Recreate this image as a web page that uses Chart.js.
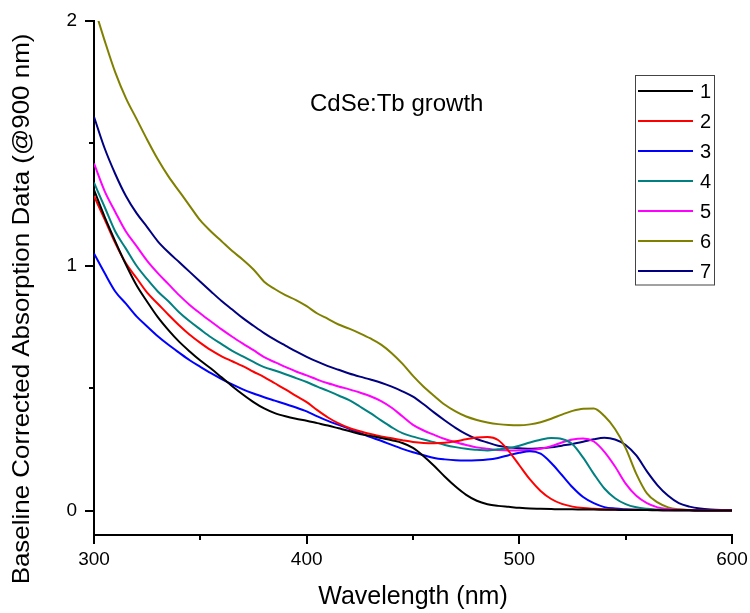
<!DOCTYPE html>
<html>
<head>
<meta charset="utf-8">
<script src="https://cdn.jsdelivr.net/npm/chart.js@4.4.0/dist/chart.umd.min.js"></script>
<style>
  html, body { margin: 0; padding: 0; background: #fff; }
  #wrap { width: 750px; height: 613px; position: relative; }
</style>
</head>
<body>
<div id="wrap"><canvas id="absChart"></canvas></div>
<script>
// wavelength grid (nm)
const wavelengths = [
  300, 305, 310, 315, 320, 325, 330, 335, 340, 345,
  350, 355, 360, 365, 370, 375, 380, 385, 390, 395,
  400, 405, 410, 415, 420, 425, 430, 435, 440, 445,
  450, 455, 460, 465, 470, 475, 480, 485, 490, 495,
  500, 505, 510, 515, 520, 525, 530, 535, 540, 545,
  550, 555, 560, 565, 570, 575, 580, 585, 590, 595, 600
];

const abs1 = [
  1.31, 1.20, 1.10, 1.005, 0.92, 0.853, 0.79, 0.737, 0.69, 0.65,
  0.613, 0.58, 0.544, 0.508, 0.474, 0.443, 0.417, 0.398, 0.385, 0.375,
  0.367, 0.357, 0.347, 0.336, 0.325, 0.313, 0.305, 0.296, 0.287, 0.276,
  0.256, 0.222, 0.182, 0.138, 0.098, 0.064, 0.04, 0.026, 0.019, 0.015,
  0.011, 0.008, 0.007, 0.006, 0.005, 0.005, 0.004, 0.004, 0.003, 0.003,
  0.002, 0.002, 0.002, 0.001, 0.001, 0.001, 0.001, 0, 0, 0, 0
];
const abs2 = [
  1.285, 1.19, 1.093, 1.01, 0.95, 0.89, 0.845, 0.80, 0.757, 0.718,
  0.685, 0.655, 0.63, 0.61, 0.59, 0.567, 0.545, 0.52, 0.495, 0.468,
  0.443, 0.41, 0.38, 0.356, 0.337, 0.324, 0.313, 0.303, 0.295, 0.287,
  0.28, 0.276, 0.275, 0.277, 0.283, 0.291, 0.298, 0.30, 0.288, 0.243,
  0.185, 0.127, 0.08, 0.047, 0.027, 0.016, 0.01, 0.007, 0.005, 0.004,
  0.003, 0.003, 0.002, 0.002, 0.001, 0.001, 0.001, 0, 0, 0, 0
];
const abs3 = [
  1.05, 0.97, 0.895, 0.845, 0.793, 0.752, 0.712, 0.677, 0.645, 0.614,
  0.587, 0.561, 0.537, 0.515, 0.495, 0.478, 0.463, 0.449, 0.435, 0.421,
  0.405, 0.385, 0.366, 0.35, 0.334, 0.317, 0.30, 0.285, 0.268, 0.252,
  0.238, 0.226, 0.215, 0.209, 0.205, 0.204, 0.205, 0.208, 0.215, 0.226,
  0.236, 0.242, 0.232, 0.194, 0.145, 0.095, 0.055, 0.03, 0.014, 0.008,
  0.005, 0.003, 0.002, 0.002, 0.001, 0.001, 0.001, 0, 0, 0, 0
];
const abs4 = [
  1.34, 1.24, 1.14, 1.07, 1.0, 0.945, 0.895, 0.855, 0.81, 0.773,
  0.74, 0.708, 0.68, 0.652, 0.63, 0.607, 0.586, 0.572, 0.557, 0.541,
  0.525, 0.506, 0.489, 0.47, 0.451, 0.425, 0.398, 0.368, 0.34, 0.316,
  0.302, 0.29, 0.279, 0.268, 0.259, 0.252, 0.248, 0.245, 0.25, 0.255,
  0.265, 0.278, 0.289, 0.296, 0.292, 0.271, 0.216, 0.15, 0.09, 0.05,
  0.026, 0.013, 0.007, 0.004, 0.002, 0.001, 0.001, 0, 0, 0, 0
];
const abs5 = [
  1.418, 1.305, 1.22, 1.14, 1.08, 1.02, 0.97, 0.925, 0.88, 0.84,
  0.805, 0.772, 0.74, 0.71, 0.682, 0.655, 0.627, 0.606, 0.587, 0.568,
  0.552, 0.535, 0.52, 0.507, 0.495, 0.482, 0.467, 0.447, 0.42, 0.385,
  0.35, 0.327, 0.309, 0.292, 0.279, 0.268, 0.258, 0.252, 0.247, 0.245,
  0.246, 0.247, 0.252, 0.263, 0.278, 0.29, 0.294, 0.282, 0.24, 0.18,
  0.11, 0.06, 0.03, 0.013, 0.006, 0.003, 0.002, 0.001, 0, 0, 0
];
const abs6 = [
  2.06, 1.92, 1.79, 1.685, 1.60, 1.515, 1.435, 1.365, 1.305, 1.245,
  1.185, 1.14, 1.10, 1.06, 1.025, 0.985, 0.935, 0.905, 0.88, 0.86,
  0.835, 0.805, 0.783, 0.76, 0.743, 0.724, 0.703, 0.678, 0.643, 0.60,
  0.55, 0.506, 0.468, 0.432, 0.405, 0.384, 0.37, 0.36, 0.353, 0.349,
  0.348, 0.352, 0.361, 0.375, 0.392, 0.407, 0.416, 0.417, 0.386, 0.333,
  0.255, 0.15, 0.07, 0.033, 0.013, 0.005, 0.002, 0.001, 0, 0, 0
];
const abs7 = [
  1.609, 1.48, 1.375, 1.285, 1.215, 1.158, 1.10, 1.055, 1.015, 0.975,
  0.935, 0.895, 0.856, 0.821, 0.786, 0.755, 0.725, 0.698, 0.674, 0.65,
  0.628, 0.608, 0.59, 0.575, 0.56, 0.547, 0.535, 0.522, 0.506, 0.487,
  0.465, 0.434, 0.40, 0.368, 0.338, 0.312, 0.292, 0.278, 0.265, 0.258,
  0.254, 0.252, 0.254, 0.258, 0.265, 0.272, 0.281, 0.291, 0.297, 0.29,
  0.268, 0.225, 0.16, 0.103, 0.06, 0.03, 0.016, 0.008, 0.004, 0.002, 0.001
];

const seriesValues = [abs1, abs2, abs3, abs4, abs5, abs6, abs7];
const seriesLabels = ['1', '2', '3', '4', '5', '6', '7'];
const seriesColors = ['#000000', '#ff0000', '#0000ff', '#008080', '#ff00ff', '#808000', '#000080'];

const xTickValues = [300, 350, 400, 450, 500, 550, 600];
const yTickValues = [0, 0.5, 1, 1.5, 2];
const xTitleText = 'Wavelength (nm)';
const yTitleText = 'Baseline Corrected Absorption Data (@900 nm)';
const noteText = 'CdSe:Tb growth';

const FONT = '"Liberation Sans", Arial, sans-serif';

// major / minor tick marks drawn outside the axes
const tickMarks = {
  id: 'tickMarks',
  afterDraw(chart) {
    const { ctx, chartArea, scales: { x, y } } = chart;
    ctx.save();
    ctx.strokeStyle = '#000';
    ctx.lineWidth = 2;
    ctx.beginPath();
    xTickValues.forEach(v => {
      const px = Math.round(x.getPixelForValue(v));
      const len = v % 100 === 0 ? 9 : 5;
      ctx.moveTo(px, chartArea.bottom);
      ctx.lineTo(px, chartArea.bottom + len);
    });
    yTickValues.forEach(v => {
      const py = Math.round(y.getPixelForValue(v));
      const len = Number.isInteger(v) ? 9 : 5;
      ctx.moveTo(chartArea.left, py);
      ctx.lineTo(chartArea.left - len, py);
    });
    ctx.stroke();
    ctx.restore();
  }
};

// boxed legend, text note and the y title (placed like the Origin export)
const boxLegend = {
  id: 'boxLegend',
  afterDraw(chart) {
    const ctx = chart.ctx;
    ctx.save();
    ctx.strokeStyle = '#444';
    ctx.lineWidth = 1;
    ctx.strokeRect(635.5, 75.5, 79, 209.5);
    ctx.font = '20px ' + FONT;
    ctx.textBaseline = 'middle';
    ctx.fillStyle = '#000';
    chart.data.datasets.forEach((ds, i) => {
      const yy = 91 + i * 30;
      ctx.strokeStyle = ds.borderColor;
      ctx.lineWidth = 2;
      ctx.beginPath();
      ctx.moveTo(638, yy);
      ctx.lineTo(693, yy);
      ctx.stroke();
      ctx.fillText(ds.label, 700, yy + 1);
    });
    ctx.font = '24px ' + FONT;
    ctx.textBaseline = 'alphabetic';
    ctx.fillText(noteText, 310, 111);

    ctx.translate(22, 309);
    ctx.rotate(-Math.PI / 2);
    ctx.scale(1.08, 1);
    ctx.textAlign = 'center';
    ctx.textBaseline = 'middle';
    ctx.fillText(yTitleText, 0, 0);
    ctx.restore();
  }
};

new Chart(document.getElementById('absChart'), {
  type: 'line',
  data: {
    datasets: seriesValues.map((vals, i) => ({
      label: seriesLabels[i],
      data: wavelengths.map((w, j) => ({ x: w, y: vals[j] })),
      borderColor: seriesColors[i],
      borderWidth: 2,
      pointRadius: 0,
      fill: false,
      cubicInterpolationMode: 'monotone'
    }))
  },
  options: {
    responsive: true,
    maintainAspectRatio: false,
    animation: false,
    layout: { padding: { top: 21, right: 18, left: 0, bottom: 0 } },
    plugins: { legend: { display: false }, tooltip: { enabled: false } },
    scales: {
      x: {
        type: 'linear',
        min: 300,
        max: 600,
        afterBuildTicks: s => { s.ticks = xTickValues.map(v => ({ value: v })); },
        afterFit: s => { s.height = 78; },
        grid: { display: false, drawTicks: true, tickLength: 13 },
        border: { display: true, color: '#000', width: 2 },
        ticks: {
          color: '#000', font: { family: FONT, size: 19 }, padding: 0,
          maxRotation: 0, autoSkip: false,
          callback: v => (v % 100 === 0 ? String(v) : '')
        },
        title: {
          display: true, text: xTitleText, color: '#000',
          font: { family: FONT, size: 25 }, padding: { top: 0, bottom: 1 }
        }
      },
      y: {
        type: 'linear',
        min: -0.1,
        max: 2,
        afterBuildTicks: s => { s.ticks = yTickValues.map(v => ({ value: v })); },
        afterFit: s => { s.width = 94; },
        grid: { display: false, drawTicks: true, tickLength: 17 },
        border: { display: true, color: '#000', width: 2 },
        ticks: {
          color: '#000', font: { family: FONT, size: 19 }, padding: 0,
          callback: v => (Number.isInteger(v) ? String(v) : '')
        },
        title: { display: false }
      }
    }
  },
  plugins: [tickMarks, boxLegend]
});
</script>
</body>
</html>
